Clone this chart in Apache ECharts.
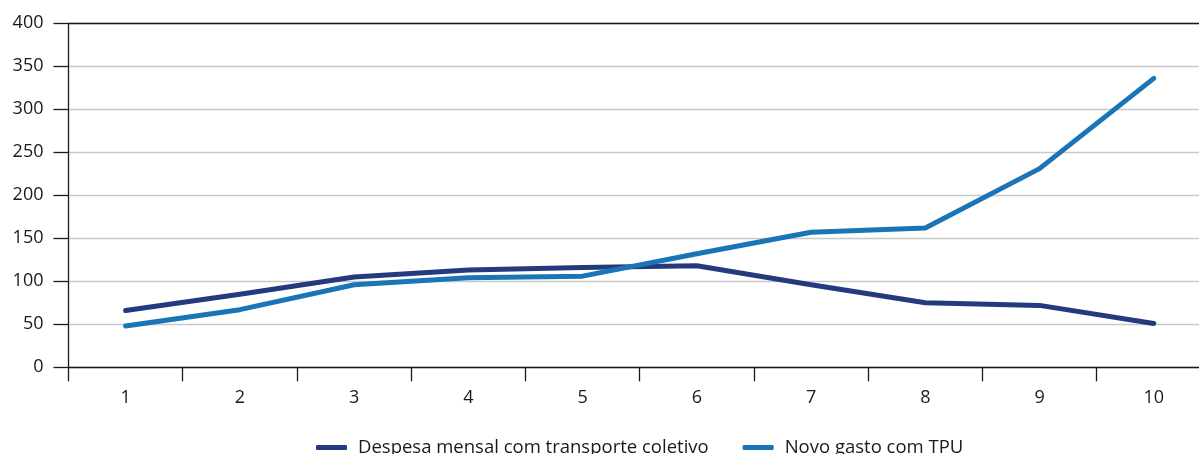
<!DOCTYPE html>
<html>
<head>
<meta charset="utf-8">
<script src="https://cdn.jsdelivr.net/npm/echarts@6/dist/echarts.min.js"></script>
<style>
html,body{margin:0;padding:0;background:#fff;}
#chart{width:1199px;height:454px;}
</style>
</head>
<body>
<div id="chart"></div>
<script>
const categories = ['1','2','3','4','5','6','7','8','9','10'];
const despesaMensal = [66, 85, 105, 113, 116, 118, 96, 75, 72, 51];
const novoGastoTPU = [48, 67, 96, 104, 106, 132, 157, 162, 231, 336];
const seriesNames = ['Despesa mensal com transporte coletivo', 'Novo gasto com TPU'];
const yTicks = [0, 50, 100, 150, 200, 250, 300, 350, 400];

const chart = echarts.init(document.getElementById('chart'), null, {renderer: 'canvas'});
const fontFam = '"Open Sans", "Noto Sans", sans-serif';
chart.setOption({
  animation: false,
  color: ['#233a7f', '#1a75b6'],
  grid: {left: 68.5, width: 1142.4, top: 23.3, bottom: 86.7, containLabel: false, outerBoundsMode: 'none'},
  legend: {
    bottom: -3,
    left: 316,
    padding: 0,
    itemWidth: 31,
    itemHeight: 5,
    itemGap: 34,
    icon: 'roundRect',
    textStyle: {fontFamily: fontFam, fontSize: 18.5, color: '#1a1a1a', padding: [0, 0, 0, 6]},
    data: seriesNames
  },
  xAxis: [{
    type: 'category',
    data: categories,
    boundaryGap: true,
    axisLine: {lineStyle: {color: '#1a1a1a', width: 1.3}},
    axisTick: {show: true, length: 14, lineStyle: {color: '#1a1a1a', width: 1.3}},
    axisLabel: {color: '#1a1a1a', fontSize: 18, fontFamily: fontFam, margin: 22}
  }, {
    type: 'category',
    position: 'top',
    data: categories,
    axisLine: {show: true, lineStyle: {color: '#1a1a1a', width: 1.3}},
    axisTick: {show: false},
    axisLabel: {show: false}
  }],
  yAxis: {
    type: 'value',
    min: yTicks[0],
    max: yTicks[yTicks.length - 1],
    interval: 50,
    axisLine: {show: true, lineStyle: {color: '#1a1a1a', width: 1.3}},
    axisTick: {show: true, length: 15, lineStyle: {color: '#1a1a1a', width: 1.3}},
    axisLabel: {color: '#1a1a1a', fontSize: 18, fontFamily: fontFam, margin: 25},
    splitLine: {show: true, lineStyle: {color: '#c8c8c8', width: 1.3}}
  },
  series: [{
    name: seriesNames[0],
    type: 'line',
    data: despesaMensal,
    symbol: 'none',
    lineStyle: {width: 5, cap: 'round', join: 'round'}
  }, {
    name: seriesNames[1],
    type: 'line',
    data: novoGastoTPU,
    symbol: 'none',
    lineStyle: {width: 5, cap: 'round', join: 'round'}
  }]
});
</script>
</body>
</html>
